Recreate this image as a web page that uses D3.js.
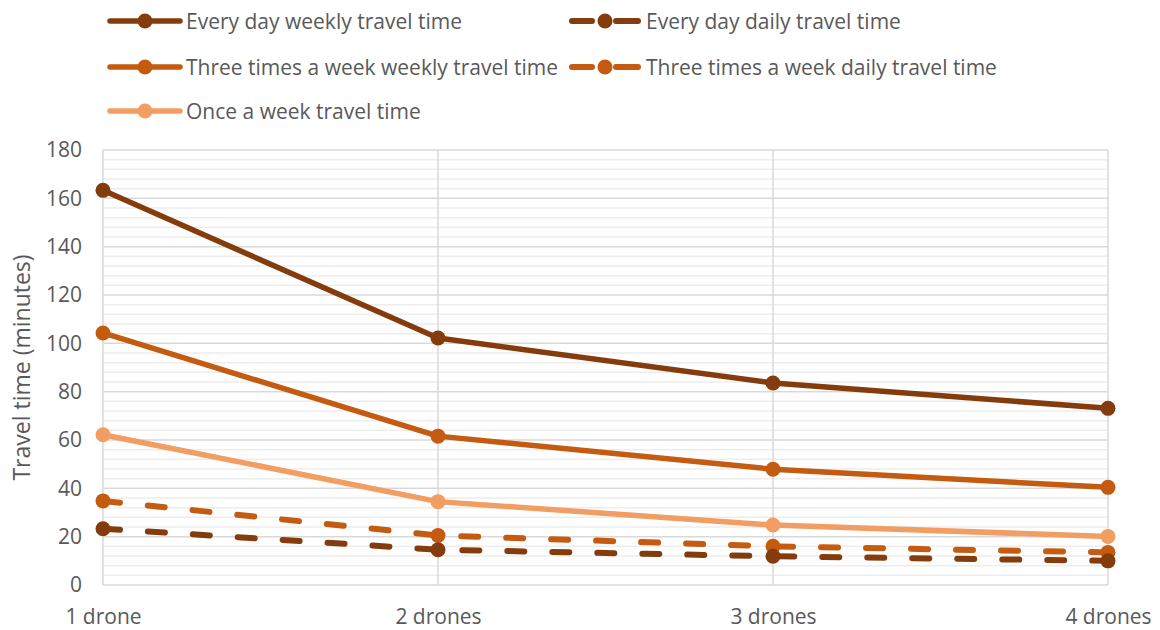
<!DOCTYPE html>
<html>
<head>
<meta charset="utf-8">
<script src="https://cdn.jsdelivr.net/npm/d3@7"></script>
<style>
  html, body { margin: 0; padding: 0; background: #fff; }
  svg { display: block; }
  text { font-family: "Open Sans", Lato, sans-serif; fill: #595959; }
</style>
</head>
<body>
<svg id="chart" width="1160" height="630"></svg>
<script>
// Categories and series
const categories = ["1 drone", "2 drones", "3 drones", "4 drones"];
const everyDayWeekly = [163.3, 102.2, 83.6, 73.1];
const everyDayDaily = [23.3, 14.6, 11.9, 10.0];
const threeWeekWeekly = [104.3, 61.6, 47.9, 40.4];
const threeWeekDaily = [34.8, 20.5, 16.0, 13.5];
const onceWeekly = [62.2, 34.5, 24.8, 20.1];
const yTicks = [0, 20, 40, 60, 80, 100, 120, 140, 160, 180];

const series = [
  { name: "Every day weekly travel time", values: everyDayWeekly, color: "#843C0C", dashed: false },
  { name: "Every day daily travel time", values: everyDayDaily, color: "#843C0C", dashed: true },
  { name: "Three times a week weekly travel time", values: threeWeekWeekly, color: "#C55A11", dashed: false },
  { name: "Three times a week daily travel time", values: threeWeekDaily, color: "#C55A11", dashed: true },
  { name: "Once a week travel time", values: onceWeekly, color: "#F29D62", dashed: false }
];

const svg = d3.select("#chart");
const plotL = 103, plotR = 1108, plotT = 150, plotB = 585;
const font = "'Open Sans', Lato, sans-serif";

const x = d3.scalePoint().domain(categories).range([plotL, plotR]);
const y = d3.scaleLinear().domain([0, 180]).range([plotB, plotT]);

// Minor gridlines every 4 minutes
const minor = d3.range(0, 181, 4).filter(v => v % 20 !== 0);
svg.append("g").selectAll("line").data(minor).join("line")
  .attr("x1", plotL).attr("x2", plotR)
  .attr("y1", d => y(d)).attr("y2", d => y(d))
  .attr("stroke", "#ededed").attr("stroke-width", 1.5);

// Major gridlines
svg.append("g").selectAll("line").data(yTicks).join("line")
  .attr("x1", plotL).attr("x2", plotR)
  .attr("y1", d => y(d)).attr("y2", d => y(d))
  .attr("stroke", "#d9d9d9").attr("stroke-width", 1.5);

// Vertical gridlines at each category
svg.append("g").selectAll("line").data(categories).join("line")
  .attr("x1", d => x(d)).attr("x2", d => x(d))
  .attr("y1", plotT).attr("y2", plotB)
  .attr("stroke", "#d9d9d9").attr("stroke-width", 1.5);

// Y axis labels
const yAxis = d3.axisLeft(y).tickValues(yTicks).tickSize(0).tickPadding(0);
const gy = svg.append("g").attr("transform", `translate(${plotL - 21},0)`).call(yAxis);
gy.select(".domain").remove();
gy.selectAll("text").style("font-size", "21px").attr("fill", "#595959")
  .style("font-family", font);

// X axis labels
const xAxis = d3.axisBottom(x).tickSize(0).tickPadding(0);
const gx = svg.append("g").attr("transform", `translate(0,${plotB + 24})`).call(xAxis);
gx.select(".domain").remove();
gx.selectAll("text").style("font-size", "21px").attr("fill", "#595959")
  .style("font-family", font);

// Y axis title
svg.append("text")
  .attr("transform", `translate(30,${(plotT + plotB) / 2 + 0}) rotate(-90)`)
  .attr("text-anchor", "middle")
  .style("font-size", "23px")
  .text("Travel time (minutes)");

// Lines and markers
const line = d3.line().x((d, i) => x(categories[i])).y(d => y(d));
const drawOrder = [4, 3, 1, 2, 0];
drawOrder.forEach(k => {
  const s = series[k];
  const g = svg.append("g");
  g.append("path").datum(s.values)
    .attr("d", line)
    .attr("fill", "none")
    .attr("stroke", s.color)
    .attr("stroke-width", s.dashed ? 6 : 5.5)
    .attr("stroke-linecap", "round")
    .attr("stroke-linejoin", "round")
    .attr("stroke-dasharray", s.dashed ? "17,28" : null);
  g.selectAll("circle").data(s.values).join("circle")
    .attr("cx", (d, i) => x(categories[i]))
    .attr("cy", d => y(d))
    .attr("r", 7.5)
    .attr("fill", s.color);
});

// Legend
const legendPos = [
  { x: 108, y: 21 }, { x: 570, y: 21 },
  { x: 108, y: 67 }, { x: 570, y: 67 },
  { x: 108, y: 111 }
];
series.forEach((s, k) => {
  const p = legendPos[k];
  const g = svg.append("g").attr("transform", `translate(${p.x},${p.y})`);
  if (s.dashed) {
    [[2, 22], [46, 68]].forEach(([a, b]) => {
      g.append("line").attr("x1", a).attr("x2", b).attr("y1", 0).attr("y2", 0)
        .attr("stroke", s.color).attr("stroke-width", 6).attr("stroke-linecap", "round");
    });
    g.append("circle").attr("cx", 35).attr("cy", 0).attr("r", 7.5).attr("fill", s.color);
    g.append("text").attr("x", 76).attr("y", 7.5).style("font-size", "21px").text(s.name);
  } else {
    g.append("line").attr("x1", 2).attr("x2", 72).attr("y1", 0).attr("y2", 0)
      .attr("stroke", s.color).attr("stroke-width", 5.5).attr("stroke-linecap", "round");
    g.append("circle").attr("cx", 37).attr("cy", 0).attr("r", 7.5).attr("fill", s.color);
    g.append("text").attr("x", 78).attr("y", 7.5).style("font-size", "21px").text(s.name);
  }
});
</script>
</body>
</html>
